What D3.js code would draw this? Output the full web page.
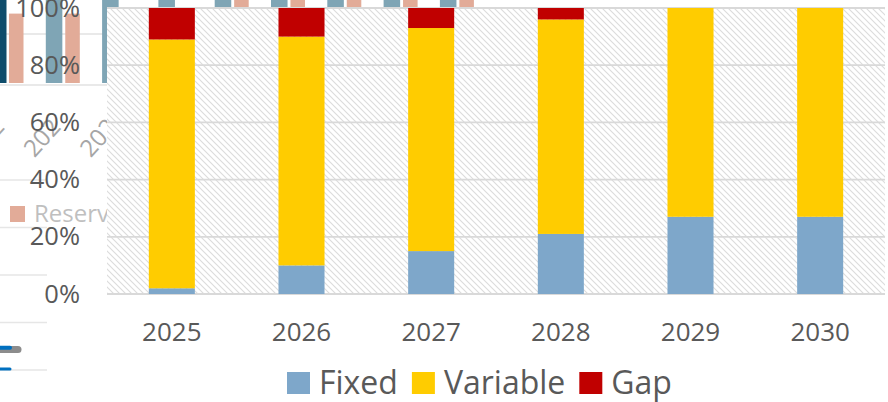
<!DOCTYPE html>
<html>
<head>
<meta charset="utf-8">
<script src="https://cdn.jsdelivr.net/npm/d3@7/dist/d3.min.js"></script>
<style>
  html, body { margin: 0; padding: 0; background: #ffffff; }
  svg { display: block; font-family: "Open Sans", "Noto Sans", "DejaVu Sans", sans-serif; }
</style>
</head>
<body>
<svg id="chart" width="888" height="402"></svg>
<script>
// ---- funding mix data (share of requirement, %) ----
const years      = ["2025", "2026", "2027", "2028", "2029", "2030"];
const fixedPct   = [2, 10, 15, 21, 27, 27];
const variablePct= [87, 80, 78, 75, 73, 73];
const gapPct     = [11, 10, 7, 4, 0, 0];
const seriesNames  = ["Fixed", "Variable", "Gap"];
const seriesColors = ["#7EA7CA", "#FFCC00", "#C00000"];
const yTicks = [0, 20, 40, 60, 80, 100];

// ---- chart lying underneath (partly covered) ----
const backYears    = ["2020", "2021", "2022", "2023", "2024", "2025", "2026", "2027", "2028"];
const backPlanned  = [110, 110, 110, 110, 110, 110, 110, 110, 110];
const backReserve  = [70, 70, 72, 75, 90, 92, 95, 96, 98];
const backTicks    = [0, 50];
const backLabels   = ["202", "202", "202"];
const backLegend   = ["Reserve"];
const lowerTicks   = [0, 1, 2, 3, 4];
const lowerSeries  = [
  { name: "trend", color: "#8C8C8C", width: 7, values: [0.43, 0.43] },
  { name: "plan",  color: "#0070C0", width: 4, values: [0.47, 0.47] },
  { name: "base",  color: "#0070C0", width: 3, values: [0.02, 0.02] }
];
const lowerEnds = [18, 10, 10];

const svg = d3.select("#chart");
const plot = { left: 107, right: 885, top: 8, bottom: 294 };

// ================= background chart fragments =================
const back = svg.append("g").attr("class", "back");

const bx = d3.scaleBand().domain(backYears).range([-21.5, -21.5 + 56.3 * backYears.length]);
const bsub = d3.scaleBand().domain(["Planned", "Reserve"]).range([11, 47]).paddingInner(0.15);
const by = d3.scaleLinear().domain([0, 100]).range([85, -17]);

back.selectAll("line.bgrid").data(backTicks).join("line")
  .attr("x1", 0).attr("x2", plot.left)
  .attr("y1", d => by(d)).attr("y2", d => by(d))
  .attr("stroke", "#E2E2E2").attr("stroke-width", 1.5);

back.selectAll("rect.bp").data(backYears).join("rect")
  .attr("x", d => bx(d) + bsub("Planned") - (d === backYears[0] ? -10 : 0))
  .attr("width", d => d === backYears[0] ? 7 : bsub.bandwidth())
  .attr("y", (d, i) => by(backPlanned[i]))
  .attr("height", (d, i) => by(0) - 2 - by(backPlanned[i]))
  .attr("fill", d => d === backYears[0] ? "#0E4C6B" : "#7FA5B5");

back.selectAll("rect.br").data(backYears).join("rect")
  .attr("x", d => bx(d) + bsub("Reserve"))
  .attr("width", bsub.bandwidth() - 2)
  .attr("y", (d, i) => by(backReserve[i]))
  .attr("height", (d, i) => by(0) - 2 - by(backReserve[i]))
  .attr("fill", "#E2AB98");

back.selectAll("text.bl").data(backLabels).join("text")
  .attr("transform", (d, i) => {
    const cx = bx(backYears[i]) + bx.bandwidth() / 2 - 1;
    return `translate(${cx},128) rotate(-48)`;
  })
  .attr("text-anchor", "end")
  .attr("font-size", 24)
  .attr("fill", "#A6A6A6")
  .text(d => d);

// legend entry of the underlying chart
back.append("rect").attr("x", 10).attr("y", 206).attr("width", 15).attr("height", 16).attr("fill", "#E2AB98");
back.append("text").attr("x", 34).attr("y", 222).attr("font-size", 24).attr("fill", "#BFBFBF").text(backLegend[0]);

// lower line chart fragments
const ly = d3.scaleLinear().domain([0, 4]).range([370, 180]);
back.selectAll("line.lgrid").data(lowerTicks).join("line")
  .attr("x1", 0).attr("x2", 47)
  .attr("y1", d => ly(d)).attr("y2", d => ly(d))
  .attr("stroke", "#E6E6E6").attr("stroke-width", 1.5);
back.selectAll("line.lseries").data(lowerSeries).join("line")
  .attr("x1", -20).attr("x2", (d, i) => lowerEnds[i])
  .attr("y1", d => ly(d.values[0])).attr("y2", d => ly(d.values[1]))
  .attr("stroke", d => d.color)
  .attr("stroke-width", d => d.width)
  .attr("stroke-linecap", "round");

// ================= main chart =================
const defs = svg.append("defs");
const pat = defs.append("pattern")
  .attr("id", "hatch")
  .attr("patternUnits", "userSpaceOnUse")
  .attr("width", 6).attr("height", 6);
pat.append("rect").attr("width", 6).attr("height", 6).attr("fill", "#ffffff");
pat.append("path")
  .attr("d", "M0,0L6,6M-1,5L1,7M5,-1L7,1")
  .attr("stroke", "#DCDCDC").attr("stroke-width", 1.1);

svg.append("rect")
  .attr("x", plot.left).attr("y", plot.top)
  .attr("width", plot.right - plot.left).attr("height", plot.bottom - plot.top)
  .attr("fill", "url(#hatch)");

const x = d3.scaleBand().domain(years)
  .range([plot.left, plot.right])
  .paddingInner(0.645).paddingOuter(0.3225);
const y = d3.scaleLinear().domain([0, 100]).range([plot.bottom, plot.top]);

// gridlines
svg.append("g").selectAll("line").data(yTicks).join("line")
  .attr("x1", plot.left).attr("x2", plot.right)
  .attr("y1", d => y(d)).attr("y2", d => y(d))
  .attr("stroke", "#D9D9D9").attr("stroke-width", 1.8);

// stacked bars
const rows = years.map((yr, i) => ({ year: yr, Fixed: fixedPct[i], Variable: variablePct[i], Gap: gapPct[i] }));
const stacked = d3.stack().keys(seriesNames)(rows);
const color = d3.scaleOrdinal().domain(seriesNames).range(seriesColors);

svg.append("g").selectAll("g").data(stacked).join("g")
  .attr("fill", d => color(d.key))
  .selectAll("rect").data(d => d).join("rect")
  .attr("x", d => x(d.data.year))
  .attr("width", x.bandwidth())
  .attr("y", d => y(d[1]))
  .attr("height", d => y(d[0]) - y(d[1]));

// y axis labels
const yAxis = svg.append("g")
  .attr("transform", `translate(${plot.left},0)`)
  .call(d3.axisLeft(y).tickValues(yTicks).tickSize(0).tickPadding(27).tickFormat(d => d + "%"));
yAxis.select(".domain").remove();
yAxis.selectAll("text")
  .attr("font-size", 25.5)
  .attr("font-family", "\"Open Sans\", \"Noto Sans\", sans-serif")
  .attr("fill", "#595959");

// x axis labels
const xAxis = svg.append("g")
  .attr("transform", `translate(0,${plot.bottom})`)
  .call(d3.axisBottom(x).tickSize(0).tickPadding(29));
xAxis.select(".domain").remove();
xAxis.selectAll("text")
  .attr("font-size", 26)
  .attr("font-family", "\"Open Sans\", \"Noto Sans\", sans-serif")
  .attr("fill", "#595959");

// legend
const legend = svg.append("g").attr("transform", "translate(287,0)");
let legX = 0;
seriesNames.forEach((name, i) => {
  const item = legend.append("g").attr("transform", `translate(${legX},0)`);
  item.append("rect").attr("x", 0).attr("y", 372).attr("width", 23).attr("height", 22).attr("fill", seriesColors[i]);
  const t = item.append("text").attr("x", 32).attr("y", 394)
    .attr("font-size", 32).attr("fill", "#595959").text(name);
  legX += 32 + t.node().getComputedTextLength() + 14;
});
</script>
</body>
</html>
